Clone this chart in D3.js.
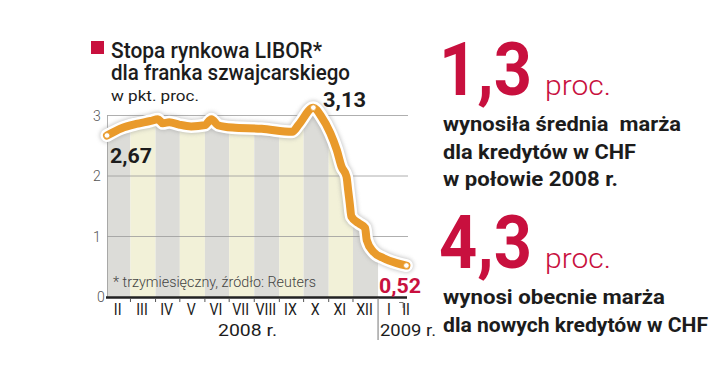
<!DOCTYPE html>
<html><head><meta charset="utf-8">
<script src="https://cdn.jsdelivr.net/npm/d3@7"></script>
<style>
body{margin:0;background:#fff;}
svg{display:block;}
text{font-family:Roboto,"Noto Sans",sans-serif;white-space:pre;}
</style></head><body>
<svg id="c" width="720" height="373"></svg>
<script>
const dates = ["2008-02-01","2008-02-19","2008-03-08","2008-03-26","2008-04-04","2008-04-10","2008-04-18","2008-04-30","2008-05-15","2008-06-01","2008-06-09","2008-06-17","2008-07-05","2008-08-10","2008-09-17","2008-09-25","2008-10-13","2008-10-23","2008-11-03","2008-11-11","2008-11-17","2008-11-23","2008-11-25","2008-11-27","2008-11-29","2008-12-08","2008-12-16","2008-12-18","2008-12-26","2009-01-08","2009-01-24","2009-02-05"];
const values = [2.67,2.79,2.86,2.91,2.94,2.87,2.89,2.85,2.82,2.84,2.94,2.84,2.80,2.78,2.73,2.85,3.13,2.98,2.71,2.43,2.15,1.99,1.77,1.55,1.33,1.22,1.14,0.94,0.75,0.64,0.56,0.52];
const monthStarts = ["2008-02-01","2008-03-01","2008-04-01","2008-05-01","2008-06-01","2008-07-01","2008-08-01","2008-09-01","2008-10-01","2008-11-01","2008-12-01","2009-01-01","2009-02-01"];
const monthLabels = ["II","III","IV","V","VI","VII","VIII","IX","X","XI","XII","I","II"];
const bandColors = ["#dcdcd8","#f2f1d8","#dcdcd8","#f2f1d8","#dcdcd8","#f2f1d8","#dcdcd8","#f2f1d8","#dcdcd8","#f2f1d8","#dcdcd8",null];
const yTicks = [0,1,2,3];
const annotations = [{i:0,label:"2,67"},{i:16,label:"3,13"},{i:31,label:"0,52"}];

const parse = d3.timeParse("%Y-%m-%d");
const data = dates.map((d,i)=>({date:parse(d),value:values[i]}));
const ms = monthStarts.map(parse);

const svg = d3.select("#c");
const x = d3.scaleTime().domain([parse("2008-02-01"), parse("2009-02-07")]).range([107,408]);
const y = d3.scaleLinear().domain([0,3]).range([297,115.5]);

const RED = "#c8103e", DARK="#1c1c1c", ORANGE="#e99a2b";
function fit(sel, w){ sel.attr("textLength", w).attr("lengthAdjust","spacingAndGlyphs"); return sel; }
function squeeze(sel, k){ sel.each(function(){ const n=this.getComputedTextLength(); d3.select(this).attr("textLength", n*k).attr("lengthAdjust","spacingAndGlyphs"); }); return sel; }

const defs = svg.append("defs");
const curve = d3.curveMonotoneX;
const area = d3.area().x(d=>x(d.date)).y0(y(0)).y1(d=>y(d.value)).curve(curve);
defs.append("clipPath").attr("id","under").append("path").attr("d",area(data));
const f = defs.append("filter").attr("id","sh").attr("x","-10%").attr("y","-10%").attr("width","120%").attr("height","120%");
f.append("feGaussianBlur").attr("stdDeviation",2.2);

// bands
const gB = svg.append("g").attr("clip-path","url(#under)");
gB.selectAll("rect").data(bandColors.map((c,i)=>({c,i})).filter(d=>d.c)).enter().append("rect")
  .attr("x",d=>x(ms[d.i])).attr("width",d=>x(ms[d.i+1])-x(ms[d.i]))
  .attr("y",y(3.3)).attr("height",y(0)-y(3.3)).attr("fill",d=>d.c);

// gridlines
svg.append("g").selectAll("line").data(yTicks.filter(t=>t>0)).enter().append("line")
  .attr("x1",107).attr("x2",408).attr("y1",d=>y(d)).attr("y2",d=>y(d))
  .attr("stroke","#9a9a9a").attr("stroke-width",0.8);
svg.append("line").attr("x1",107.5).attr("x2",107.5).attr("y1",y(3)).attr("y2",y(0)).attr("stroke","#9a9a9a").attr("stroke-width",0.8);

// y labels
svg.append("g").selectAll("text").data(yTicks).enter().append("text")
  .attr("x",d=>d===0?101:97).attr("y",d=>y(d)+5).attr("text-anchor","middle")
  .attr("font-size",14).attr("font-weight",300).attr("fill","#555").text(d=>d);

// footnote
fit(svg.append("text").attr("x",113).attr("y",287).attr("font-size",14).attr("font-weight",300).attr("fill","#444")
  .text("* trzymiesięczny, źródło: Reuters"),203);

// x axis
svg.append("line").attr("x1",106).attr("x2",407).attr("y1",297.5).attr("y2",297.5).attr("stroke","#222").attr("stroke-width",2.5);
svg.append("g").selectAll("line").data(ms.slice(1,11)).enter().append("line")
  .attr("x1",d=>x(d)).attr("x2",d=>x(d)).attr("y1",298).attr("y2",302).attr("stroke","#555").attr("stroke-width",1);
svg.append("line").attr("x1",x(ms[11])).attr("x2",x(ms[11])).attr("y1",298).attr("y2",340).attr("stroke","#777").attr("stroke-width",1);
svg.append("path").attr("d",`M${x(ms[12])-4},302.5H${x(ms[12])}V308`).attr("fill","none").attr("stroke","#777").attr("stroke-width",1);
squeeze(svg.append("g").selectAll("text").data(monthLabels).enter().append("text")
  .attr("x",(d,i)=> i<11 ? (x(ms[i])+x(ms[i+1]))/2 - 1 : (i===11 ? 389 : 406))
  .attr("y",315).attr("text-anchor","middle").attr("font-size",16.5).attr("fill",DARK).text(d=>d), 0.86);
fit(svg.append("text").attr("x",218).attr("y",335.5).attr("font-size",17).attr("fill",DARK).text("2008 r."),59);
fit(svg.append("text").attr("x",380).attr("y",335.5).attr("font-size",17).attr("fill",DARK).text("2009 r."),56);

// line
const line = d3.line().x(d=>x(d.date)).y(d=>y(d.value)).curve(curve);
svg.append("path").attr("d",line(data)).attr("fill","none").attr("stroke","#999").attr("stroke-width",14).attr("stroke-linejoin","round").attr("stroke-linecap","round").attr("filter","url(#sh)").attr("opacity",0.6);
svg.append("path").attr("d",line(data)).attr("fill","none").attr("stroke","#fff").attr("stroke-width",13).attr("stroke-linejoin","round").attr("stroke-linecap","round");
svg.append("path").attr("d",line(data)).attr("fill","none").attr("stroke",ORANGE).attr("stroke-width",8).attr("stroke-linejoin","round").attr("stroke-linecap","round");
svg.append("g").selectAll("circle").data(annotations).enter().append("circle")
  .attr("cx",d=>x(data[d.i].date)).attr("cy",d=>y(data[d.i].value)).attr("r",2.8)
  .attr("fill","#fff").attr("stroke",ORANGE).attr("stroke-width",0.8);

// annotations
const ann = svg.append("g").attr("font-weight","bold").attr("font-size",20);
fit(ann.append("text").attr("x",110).attr("y",163).attr("fill",DARK).text(annotations[0].label),42);
fit(ann.append("text").attr("x",323).attr("y",107).attr("fill",DARK).text(annotations[1].label),43);
fit(ann.append("text").attr("x",379).attr("y",293).attr("fill",RED).text(annotations[2].label),42);

// title
svg.append("rect").attr("x",91).attr("y",41).attr("width",13).attr("height",13).attr("fill",RED);
const t = svg.append("g").attr("font-size",22).attr("fill",DARK).attr("font-weight",500);
fit(t.append("text").attr("x",111).attr("y",58).text("Stopa rynkowa LIBOR*"),211);
fit(t.append("text").attr("x",111).attr("y",80).text("dla franka szwajcarskiego"),239);
fit(svg.append("text").attr("x",111).attr("y",101).attr("font-size",15).attr("fill",DARK).text("w pkt. proc."),88);

// right side
const big = svg.append("g");
function block(num, yBase, lines, widths){
  fit(big.append("text").attr("x",439).attr("y",yBase).attr("font-size",74).attr("font-weight","bold").attr("fill",RED).text(num),93);
  fit(big.append("text").attr("x",545).attr("y",yBase).attr("font-size",28).attr("font-weight",300).attr("fill",RED).text("proc."),66);
  lines.forEach((l,i)=>fit(big.append("text").attr("x",443).attr("y",yBase+36+i*27.5).attr("font-size",21).attr("font-weight","bold").attr("fill",DARK).text(l),widths[i]));
}
block("1,3",95,["wynosiła średnia  marża","dla kredytów w CHF","w połowie 2008 r."],[238,193,175]);
block("4,3",268,["wynosi obecnie marża","dla nowych kredytów w CHF"],[222,265]);
</script></body></html>
